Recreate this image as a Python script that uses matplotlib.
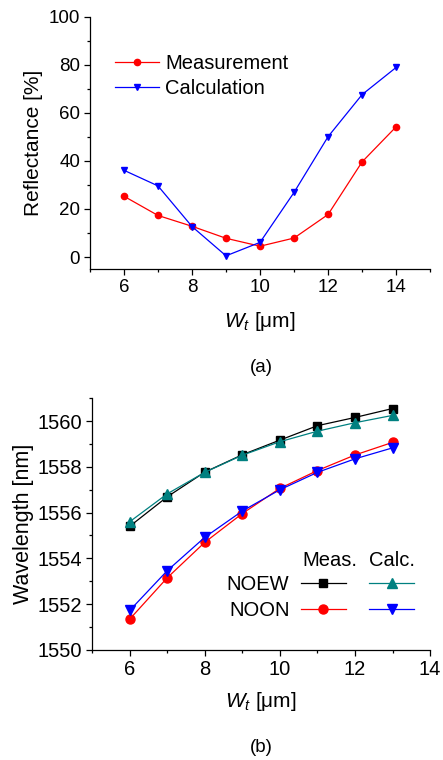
import matplotlib
matplotlib.use("Agg")
import matplotlib.pyplot as plt
from matplotlib.lines import Line2D
from matplotlib.ticker import MultipleLocator

plt.rcParams['font.family'] = ['Liberation Sans', 'DejaVu Sans']
plt.rcParams['mathtext.fontset'] = 'custom'
plt.rcParams['mathtext.rm'] = 'Liberation Sans'
plt.rcParams['mathtext.it'] = 'Liberation Sans:italic'

# ---- data (a) ----
wt_a = [6, 7, 8, 9, 10, 11, 12, 13, 14]
refl_meas = [25.3, 17.3, 12.8, 7.8, 4.5, 7.9, 17.7, 39.6, 54.2]
refl_calc = [36.1, 29.6, 12.7, 0.5, 6.1, 26.9, 50.1, 67.6, 78.9]

# ---- data (b) ----
wt_b = [6, 7, 8, 9, 10, 11, 12, 13]
noew_meas = [1555.40, 1556.69, 1557.77, 1558.53, 1559.17, 1559.80, 1560.16, 1560.55]
noew_calc = [1555.60, 1556.82, 1557.76, 1558.51, 1559.10, 1559.56, 1559.93, 1560.25]
noon_meas = [1551.34, 1553.15, 1554.70, 1555.96, 1557.06, 1557.84, 1558.52, 1559.07]
noon_calc = [1551.72, 1553.46, 1554.92, 1556.07, 1557.00, 1557.76, 1558.35, 1558.83]

TEAL = '#008080'
fig = plt.figure(figsize=(4.43, 7.6), dpi=100)

def style(ax, fs):
    ax.spines['top'].set_visible(False)
    ax.spines['right'].set_visible(False)
    for s in ('left', 'bottom'):
        ax.spines[s].set_linewidth(0.9)
    ax.tick_params(which='major', direction='out', length=4, width=0.9, labelsize=fs, pad=3)
    ax.tick_params(which='minor', direction='out', length=2.5, width=0.9)

# ---- panel (a) ----
ax1 = fig.add_axes([0.203, 0.646, 0.768, 0.332])
ax1.plot(wt_a, refl_meas, '-o', color='red', lw=0.9, ms=4.5, label='Measurement')
ax1.plot(wt_a, refl_calc, '-v', color='blue', lw=0.9, ms=5, label='Calculation')
ax1.set_xlim(5, 15)
ax1.set_ylim(-5, 100)
ax1.xaxis.set_major_locator(MultipleLocator(2))
ax1.xaxis.set_minor_locator(MultipleLocator(1))
ax1.yaxis.set_major_locator(MultipleLocator(20))
ax1.yaxis.set_minor_locator(MultipleLocator(10))
style(ax1, 13.5)
ax1.set_ylabel('Reflectance [%]', fontsize=15, labelpad=4)
ax1.set_xlabel('$W_t$ [μm]', fontsize=15, labelpad=10)
ax1.legend(loc='upper left', bbox_to_anchor=(0.05, 0.885), frameon=False, fontsize=14.5,
           handlelength=2.2, handletextpad=0.3, labelspacing=0.3, borderaxespad=0)
fig.text(0.59, 1 - 367 / 760, '(a)', ha='center', va='center', fontsize=13.5)

# ---- panel (b) ----
ax2 = fig.add_axes([0.208, 0.145, 0.763, 0.331])
ax2.plot(wt_b, noew_meas, '-s', color='black', lw=0.9, ms=5.5)
ax2.plot(wt_b, noew_calc, '-^', color=TEAL, lw=0.9, ms=6.5)
ax2.plot(wt_b, noon_meas, '-o', color='red', lw=0.9, ms=6.5)
ax2.plot(wt_b, noon_calc, '-v', color='blue', lw=0.9, ms=6.5)
ax2.set_xlim(5, 14)
ax2.set_ylim(1550, 1561)
ax2.xaxis.set_major_locator(MultipleLocator(2))
ax2.xaxis.set_minor_locator(MultipleLocator(1))
ax2.yaxis.set_major_locator(MultipleLocator(2))
ax2.yaxis.set_minor_locator(MultipleLocator(1))
style(ax2, 14.5)
ax2.set_ylabel('Wavelength [nm]', fontsize=15.5, labelpad=3)
ax2.set_xlabel('$W_t$ [μm]', fontsize=15, labelpad=8)

h = [Line2D([], [], color='black', marker='s', lw=0.9, ms=5.5),
     Line2D([], [], color='red', marker='o', lw=0.9, ms=6.5),
     Line2D([], [], color=TEAL, marker='^', lw=0.9, ms=6.5),
     Line2D([], [], color='blue', marker='v', lw=0.9, ms=6.5)]
leg = ax2.legend(h, ['NOEW', 'NOON', '', ''], ncol=2, markerfirst=False,
                 loc='lower right', bbox_to_anchor=(0.977, 0.088), frameon=False,
                 fontsize=14.5, handlelength=2.25, handletextpad=0.55,
                 columnspacing=0.6, labelspacing=0.35, borderaxespad=0)
fig.text(330 / 443, 1 - 561 / 760, 'Meas.', ha='center', va='center', fontsize=14.5)
fig.text(392 / 443, 1 - 561 / 760, 'Calc.', ha='center', va='center', fontsize=14.5)
fig.text(0.59, 1 - 748 / 760, '(b)', ha='center', va='center', fontsize=13.5)

fig.savefig('out.png', dpi=100)
